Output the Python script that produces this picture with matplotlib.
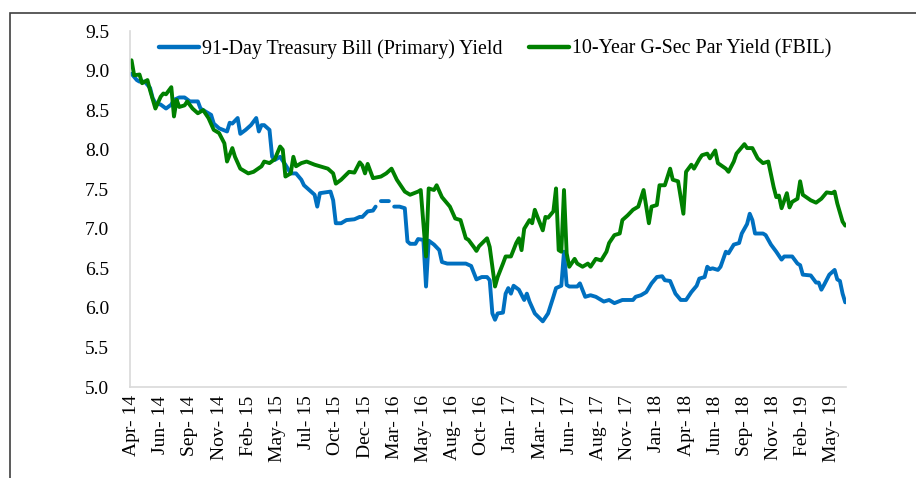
import numpy as np
import pandas as pd
import matplotlib
matplotlib.use("Agg")
import matplotlib.pyplot as plt
import matplotlib.dates as mdates
from matplotlib.patches import Rectangle

plt.rcParams['font.family'] = ['Liberation Serif', 'DejaVu Serif']

# ---- data (weekly observations, week number counted from first week) ----
start_date = "2014-04-11"

tbill_week = [0, 2, 3, 5, 7, 8, 9, 11, 13, 15, 16, 18, 20, 22, 25, 26, 28, 30, 31, 33,
              36, 37, 38, 40, 41, 43, 45, 47, 48, 49, 50, 52, 53, 54, 56, 58, 60, 62, 64, 65,
              67, 69, 70, 71, 73, 75, 76, 77, 79, 81, 84, 86, 87, 89, 91, 92, 93, 94, 97, 98,
              99, 101, 103, 104, 105, 107, 108, 110, 111, 112, 114, 116, 117, 119, 126, 128, 130, 132, 134, 135,
              136, 137, 138, 140, 141, 142, 143, 144, 146, 148, 149, 150, 152, 155, 157, 159, 160, 162, 163, 164,
              165, 168, 169, 171, 173, 175, 178, 180, 182, 185, 189, 190, 192, 194, 196, 198, 200, 201, 203, 205,
              207, 209, 211, 213, 214, 216, 217, 218, 219, 221, 222, 224, 225, 227, 229, 230, 232, 233, 234, 235,
              238, 239, 241, 243, 245, 246, 249, 251, 252, 253, 256, 258, 259, 260, 261, 263, 265, 266, 267, 268,
              269]
tbill_yield = [8.96, 8.88, 8.86, 8.86, 8.78, 8.65, 8.59, 8.57, 8.52, 8.57, 8.63, 8.66, 8.66, 8.61, 8.61, 8.52, 8.48, 8.44, 8.33, 8.27,
               8.23, 8.34, 8.33, 8.40, 8.20, 8.25, 8.31, 8.40, 8.23, 8.31, 8.31, 8.25, 7.91, 7.87, 7.91, 7.81, 7.70, 7.70, 7.62, 7.55,
               7.49, 7.43, 7.28, 7.45, 7.46, 7.47, 7.36, 7.07, 7.07, 7.11, 7.12, 7.15, 7.15, 7.22, 7.23, 7.28, np.nan, 7.35, 7.35, np.nan,
               7.28, 7.28, 7.26, 6.84, 6.81, 6.81, 6.87, 6.86, 6.27, 6.85, 6.80, 6.73, 6.58, 6.56, 6.56, 6.53, 6.36, 6.39, 6.39, 6.35,
               5.93, 5.85, 5.93, 5.94, 6.18, 6.25, 6.18, 6.28, 6.23, 6.10, 6.18, 6.08, 5.93, 5.83, 5.93, 6.14, 6.25, 6.28, 6.71, 6.29,
               6.27, 6.27, 6.31, 6.14, 6.16, 6.14, 6.08, 6.10, 6.06, 6.10, 6.10, 6.14, 6.16, 6.20, 6.31, 6.39, 6.40, 6.35, 6.34, 6.18,
               6.10, 6.10, 6.20, 6.28, 6.37, 6.39, 6.52, 6.49, 6.50, 6.48, 6.52, 6.71, 6.69, 6.80, 6.82, 6.94, 7.06, 7.19, 7.11, 6.94,
               6.94, 6.92, 6.80, 6.71, 6.61, 6.65, 6.65, 6.56, 6.54, 6.42, 6.41, 6.32, 6.32, 6.23, 6.29, 6.42, 6.48, 6.36, 6.34, 6.18,
               6.07]

gsec_week = [0, 1, 3, 4, 6, 7, 9, 11, 12, 13, 15, 16, 17, 18, 20, 21, 23, 25, 27, 29,
             31, 33, 35, 36, 38, 39, 41, 44, 46, 49, 50, 52, 54, 56, 57, 58, 60, 61, 62, 64,
             66, 69, 71, 74, 76, 77, 79, 82, 84, 86, 87, 88, 89, 91, 94, 96, 98, 100, 103, 105,
             108, 109, 111, 112, 114, 115, 117, 120, 122, 124, 126, 127, 129, 130, 131, 134, 135, 137, 138, 140,
             141, 143, 145, 146, 147, 148, 150, 151, 152, 153, 155, 156, 157, 159, 160, 161, 162, 163, 164, 165,
             167, 168, 170, 172, 173, 175, 177, 179, 180, 182, 184, 185, 187, 189, 191, 193, 195, 196, 198, 199,
             201, 203, 204, 206, 208, 209, 211, 212, 214, 215, 217, 218, 220, 221, 224, 225, 227, 228, 231, 232,
             234, 236, 238, 240, 242, 243, 244, 245, 247, 248, 249, 251, 252, 253, 256, 258, 260, 262, 264, 265,
             266, 268, 269]
gsec_yield = [9.13, 8.94, 8.95, 8.84, 8.88, 8.75, 8.52, 8.67, 8.71, 8.70, 8.79, 8.42, 8.63, 8.54, 8.56, 8.61, 8.52, 8.46, 8.50, 8.40,
              8.25, 8.21, 8.08, 7.85, 8.02, 7.91, 7.76, 7.70, 7.72, 7.79, 7.85, 7.83, 7.88, 8.04, 8.00, 7.66, 7.70, 7.91, 7.79, 7.83,
              7.85, 7.81, 7.79, 7.76, 7.70, 7.57, 7.62, 7.72, 7.71, 7.84, 7.80, 7.70, 7.82, 7.64, 7.66, 7.70, 7.76, 7.62, 7.47, 7.43,
              7.47, 7.49, 6.65, 7.51, 7.49, 7.55, 7.40, 7.28, 7.13, 7.11, 6.88, 6.86, 6.77, 6.72, 6.78, 6.88, 6.77, 6.27, 6.39, 6.56,
              6.65, 6.65, 6.82, 6.88, 6.73, 7.00, 7.11, 7.07, 7.24, 7.15, 6.98, 7.15, 7.14, 7.22, 7.51, 6.73, 6.71, 7.49, 6.69, 6.52,
              6.62, 6.56, 6.52, 6.56, 6.52, 6.62, 6.60, 6.71, 6.82, 6.92, 6.94, 7.11, 7.17, 7.24, 7.28, 7.49, 7.07, 7.28, 7.30, 7.55,
              7.55, 7.76, 7.62, 7.60, 7.19, 7.72, 7.81, 7.76, 7.88, 7.93, 7.95, 7.89, 7.99, 7.83, 7.76, 7.72, 7.85, 7.95, 8.07, 8.02,
              8.02, 7.89, 7.83, 7.85, 7.53, 7.40, 7.42, 7.26, 7.45, 7.27, 7.34, 7.38, 7.60, 7.43, 7.36, 7.33, 7.38, 7.46, 7.45, 7.47,
              7.32, 7.09, 7.04]

label_every_weeks = 11
n_label_ticks = 25
y_ticks = [5.0, 5.5, 6.0, 6.5, 7.0, 7.5, 8.0, 8.5, 9.0, 9.5]

series_names = ["91-Day Treasury Bill (Primary) Yield", "10-Year G-Sec Par Yield (FBIL)"]
colors = ["#0070C0", "#008000"]

# ---- build dates ----
t0 = pd.Timestamp(start_date)
tbill_dates = t0 + pd.to_timedelta(np.array(tbill_week) * 7, unit="D")
gsec_dates = t0 + pd.to_timedelta(np.array(gsec_week) * 7, unit="D")
tick_dates = t0 + pd.to_timedelta(np.arange(n_label_ticks) * label_every_weeks * 7, unit="D")

fig = plt.figure(figsize=(9.16, 4.78), dpi=100)
ax = fig.add_axes([130 / 916, 1 - 387 / 478, 716 / 916, (387 - 31) / 478])

ax.plot(tbill_dates, tbill_yield, color=colors[0], lw=2.8, label=series_names[0],
        solid_joinstyle="round", solid_capstyle="round")
ax.plot(gsec_dates, gsec_yield, color=colors[1], lw=2.8, label=series_names[1],
        solid_joinstyle="round", solid_capstyle="round")

ax.set_ylim(5.0, 9.5)
ax.set_yticks(y_ticks)
ax.set_yticklabels([f"{v:.1f}" for v in y_ticks])
ax.set_xlim(t0 - pd.Timedelta(days=4), gsec_dates[-1] + pd.Timedelta(days=2))
ax.set_xticks(tick_dates)
ax.xaxis.set_major_formatter(mdates.DateFormatter("%b- %y"))
ax.tick_params(axis="x", length=0, pad=6, labelsize=14, labelrotation=90, colors="#000000")
ax.tick_params(axis="y", length=0, pad=15, labelsize=14, colors="#000000")

for s in ["top", "right"]:
    ax.spines[s].set_visible(False)
for s in ["left", "bottom"]:
    ax.spines[s].set_color("#d9d9d9")
    ax.spines[s].set_linewidth(1.2)

leg = ax.legend(loc="center", bbox_to_anchor=(0.51, 0.95), ncol=2, frameon=False,
                fontsize=14.4, handlelength=2.0, handletextpad=0.15, columnspacing=1.3)
for line in leg.get_lines():
    line.set_linewidth(3.2)

# outer frame
fig.patches.append(Rectangle((10 / 916, -0.2), 1.5, 1.2 - 13 / 478, transform=fig.transFigure,
                             fill=False, edgecolor="#404040", linewidth=1.2))

fig.savefig("out.png", dpi=100)
